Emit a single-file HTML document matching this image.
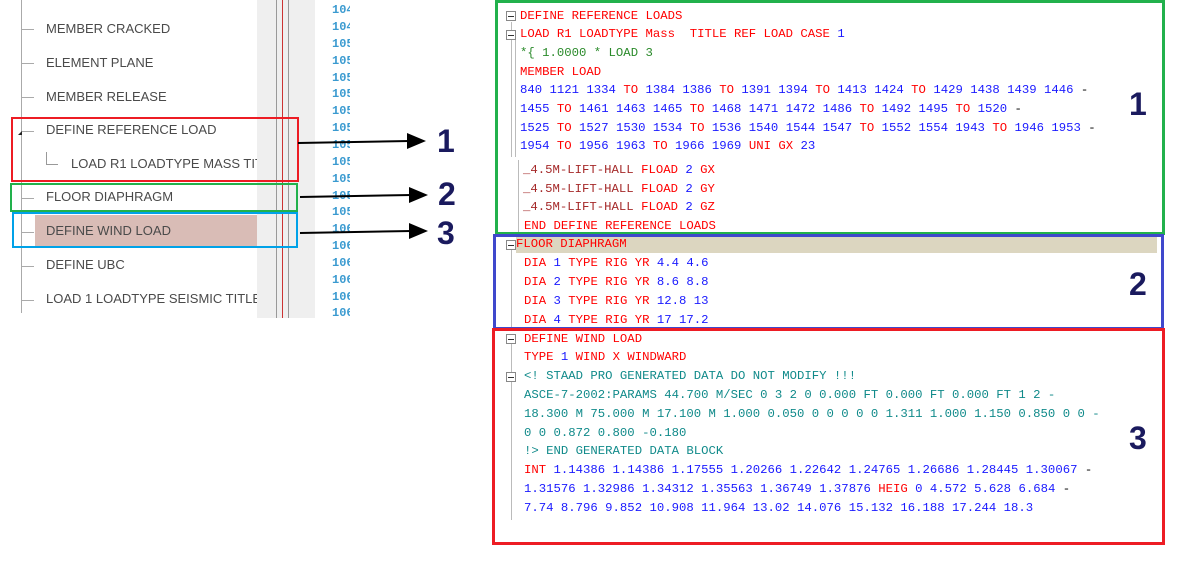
<!DOCTYPE html>
<html><head><meta charset="utf-8"><style>
body{margin:0;width:1197px;height:563px;background:#fff;position:relative;overflow:hidden;font-family:"Liberation Sans",sans-serif}
.a{position:absolute}
.t{position:absolute;left:46px;font-size:13px;color:#4a4a4a;line-height:18px;white-space:nowrap}
.tk{position:absolute;left:22px;width:12px;height:1px;background:#aaa}
.n{position:absolute;left:332px;width:18px;overflow:hidden;font-family:"Liberation Mono",monospace;font-size:12px;color:#3a9ad0;font-weight:bold;line-height:14px;white-space:nowrap}
.c{position:absolute;font-family:"Liberation Mono",monospace;font-size:12.3px;line-height:16px;white-space:pre;color:#1a1aff}
.r{color:#f00}.b{color:#1a1aff}.g{color:#2a8a2a}.tl{color:#108a8a}.br{color:#a52a2a}
.fold{position:absolute;left:506px;width:8px;height:8px;border:1px solid #888;background:#fff}
.fold:after{content:"";position:absolute;left:1px;top:3.5px;width:6px;height:1px;background:#333}
.big{position:absolute;font-size:32px;font-weight:bold;color:#1a1a5e;line-height:32px}
</style></head><body>
<div class="a" style="left:21px;top:0;width:1px;height:313px;background:#aaa"></div>
<div class="a" style="left:35px;top:215px;width:222px;height:31px;background:#d9bcb6"></div>
<div class="a" style="left:257px;top:0;width:58px;height:318px;background:#efefef"></div>
<div class="a" style="left:276px;top:0;width:1px;height:318px;background:#999"></div>
<div class="a" style="left:282px;top:0;width:1px;height:318px;background:#c33"></div>
<div class="a" style="left:288px;top:0;width:1px;height:318px;background:#999"></div>
<div class="tk" style="top:29px"></div><div class="t" style="top:20px">MEMBER CRACKED</div>
<div class="tk" style="top:63px"></div><div class="t" style="top:54px">ELEMENT PLANE</div>
<div class="tk" style="top:97px"></div><div class="t" style="top:88px">MEMBER RELEASE</div>
<div class="tk" style="top:131px"></div><div class="t" style="top:121px">DEFINE REFERENCE LOAD</div>
<div class="a" style="left:18px;top:131px;width:0;height:0;border-left:4px solid transparent;border-bottom:4px solid #222"></div>
<div class="a" style="left:46px;top:152px;width:1px;height:12px;background:#999"></div>
<div class="a" style="left:46px;top:164px;width:12px;height:1px;background:#999"></div>
<div class="t" style="top:155px;left:71px;width:186px;overflow:hidden">LOAD R1 LOADTYPE MASS TITLE</div>
<div class="tk" style="top:198px"></div><div class="t" style="top:188px">FLOOR DIAPHRAGM</div>
<div class="tk" style="top:232px"></div><div class="t" style="top:222px">DEFINE WIND LOAD</div>
<div class="tk" style="top:266px"></div><div class="t" style="top:256px">DEFINE UBC</div>
<div class="tk" style="top:300px"></div><div class="t" style="top:290px;width:211px;overflow:hidden">LOAD 1 LOADTYPE SEISMIC TITLE</div>
<div class="n" style="top:3px">104</div><div class="n" style="top:20px">104</div><div class="n" style="top:37px">105</div><div class="n" style="top:54px">105</div><div class="n" style="top:71px">105</div><div class="n" style="top:87px">105</div><div class="n" style="top:104px">105</div><div class="n" style="top:121px">105</div><div class="n" style="top:138px">105</div><div class="n" style="top:155px">105</div><div class="n" style="top:172px">105</div><div class="n" style="top:189px">105</div><div class="n" style="top:205px">105</div><div class="n" style="top:222px">106</div><div class="n" style="top:239px">106</div><div class="n" style="top:256px">106</div><div class="n" style="top:273px">106</div><div class="n" style="top:290px">106</div><div class="n" style="top:306px">106</div>
<div class="a" style="left:11px;top:117px;width:284px;height:61px;border:2px solid #ed1c24"></div>
<div class="a" style="left:10px;top:183px;width:284px;height:25px;border:2px solid #22b14c"></div>
<div class="a" style="left:12px;top:212px;width:282px;height:32px;border:2px solid #00a2e8"></div>
<svg class="a" style="left:0;top:0" width="490" height="260">
<line x1="298" y1="143" x2="410" y2="141" stroke="#000" stroke-width="2"/><polygon points="407,133 426,141 407,149" fill="#000"/>
<line x1="300" y1="197" x2="412" y2="195" stroke="#000" stroke-width="2"/><polygon points="409,187 428,195 409,203" fill="#000"/>
<line x1="300" y1="233" x2="412" y2="231" stroke="#000" stroke-width="2"/><polygon points="409,223 428,231 409,239" fill="#000"/>
</svg>
<div class="big" style="left:437px;top:125px">1</div>
<div class="big" style="left:438px;top:178px">2</div>
<div class="big" style="left:437px;top:217px">3</div>
<div class="a" style="left:516px;top:237px;width:641px;height:16px;background:#dcd6c0"></div>
<div class="a" style="left:511px;top:22px;width:1px;height:135px;background:#bbb"></div>
<div class="a" style="left:515px;top:40px;width:1px;height:117px;background:#bbb"></div>
<div class="a" style="left:518px;top:160px;width:1px;height:75px;background:#bbb"></div>
<div class="a" style="left:511px;top:250px;width:1px;height:77px;background:#bbb"></div>
<div class="a" style="left:511px;top:344px;width:1px;height:176px;background:#bbb"></div>
<div class="fold" style="top:11px"></div><div class="fold" style="top:30px"></div><div class="fold" style="top:240px"></div><div class="fold" style="top:334px"></div><div class="fold" style="top:372px"></div>
<div class="c r" style="left:520px;top:8px">DEFINE REFERENCE LOADS</div>
<div class="c r" style="left:520px;top:26px">LOAD R1 LOADTYPE Mass  TITLE REF LOAD CASE <span class="b">1</span></div>
<div class="c g" style="left:520px;top:45px">*{ 1.0000 * LOAD 3</div>
<div class="c r" style="left:520px;top:64px">MEMBER LOAD</div>
<div class="c" style="left:520px;top:82px">840 1121 1334 <span class="r">TO</span> 1384 1386 <span class="r">TO</span> 1391 1394 <span class="r">TO</span> 1413 1424 <span class="r">TO</span> 1429 1438 1439 1446 <span style="color:#000">-</span></div>
<div class="c" style="left:520px;top:101px">1455 <span class="r">TO</span> 1461 1463 1465 <span class="r">TO</span> 1468 1471 1472 1486 <span class="r">TO</span> 1492 1495 <span class="r">TO</span> 1520 <span style="color:#000">-</span></div>
<div class="c" style="left:520px;top:120px">1525 <span class="r">TO</span> 1527 1530 1534 <span class="r">TO</span> 1536 1540 1544 1547 <span class="r">TO</span> 1552 1554 1943 <span class="r">TO</span> 1946 1953 <span style="color:#000">-</span></div>
<div class="c" style="left:520px;top:138px">1954 <span class="r">TO</span> 1956 1963 <span class="r">TO</span> 1966 1969 <span class="r">UNI GX</span> 23</div>
<div class="c" style="left:523px;top:162px"><span class="br">_4.5M-LIFT-HALL</span> <span class="r">FLOAD</span> 2 <span class="r">GX</span></div>
<div class="c" style="left:523px;top:181px"><span class="br">_4.5M-LIFT-HALL</span> <span class="r">FLOAD</span> 2 <span class="r">GY</span></div>
<div class="c" style="left:523px;top:199px"><span class="br">_4.5M-LIFT-HALL</span> <span class="r">FLOAD</span> 2 <span class="r">GZ</span></div>
<div class="c r" style="left:524px;top:218px">END DEFINE REFERENCE LOADS</div>
<div class="c r" style="left:516px;top:236px">FLOOR DIAPHRAGM</div>
<div class="c r" style="left:524px;top:255px">DIA <span class="b">1</span> TYPE RIG YR <span class="b">4.4 4.6</span></div>
<div class="c r" style="left:524px;top:274px">DIA <span class="b">2</span> TYPE RIG YR <span class="b">8.6 8.8</span></div>
<div class="c r" style="left:524px;top:293px">DIA <span class="b">3</span> TYPE RIG YR <span class="b">12.8 13</span></div>
<div class="c r" style="left:524px;top:312px">DIA <span class="b">4</span> TYPE RIG YR <span class="b">17 17.2</span></div>
<div class="c r" style="left:524px;top:331px">DEFINE WIND LOAD</div>
<div class="c r" style="left:524px;top:349px">TYPE <span class="b">1</span> WIND X WINDWARD</div>
<div class="c tl" style="left:524px;top:368px">&lt;! STAAD PRO GENERATED DATA DO NOT MODIFY !!!</div>
<div class="c tl" style="left:524px;top:387px">ASCE-7-2002:PARAMS 44.700 M/SEC 0 3 2 0 0.000 FT 0.000 FT 0.000 FT 1 2 -</div>
<div class="c tl" style="left:524px;top:406px">18.300 M 75.000 M 17.100 M 1.000 0.050 0 0 0 0 0 1.311 1.000 1.150 0.850 0 0 -</div>
<div class="c tl" style="left:524px;top:425px">0 0 0.872 0.800 -0.180</div>
<div class="c tl" style="left:524px;top:443px">!&gt; END GENERATED DATA BLOCK</div>
<div class="c" style="left:524px;top:462px"><span class="r">INT</span> 1.14386 1.14386 1.17555 1.20266 1.22642 1.24765 1.26686 1.28445 1.30067 <span style="color:#000">-</span></div>
<div class="c" style="left:524px;top:481px">1.31576 1.32986 1.34312 1.35563 1.36749 1.37876 <span class="r">HEIG</span> 0 4.572 5.628 6.684 <span style="color:#000">-</span></div>
<div class="c" style="left:524px;top:500px">7.74 8.796 9.852 10.908 11.964 13.02 14.076 15.132 16.188 17.244 18.3</div>
<div class="a" style="left:495px;top:0;width:664px;height:229px;border:3px solid #22b14c"></div>
<div class="a" style="left:493px;top:234px;width:665px;height:90px;border:3px solid #3f48cc"></div>
<div class="a" style="left:492px;top:328px;width:667px;height:211px;border:3px solid #ed1c24"></div>
<div class="big" style="left:1129px;top:88px">1</div>
<div class="big" style="left:1129px;top:268px">2</div>
<div class="big" style="left:1129px;top:422px">3</div>
</body></html>
